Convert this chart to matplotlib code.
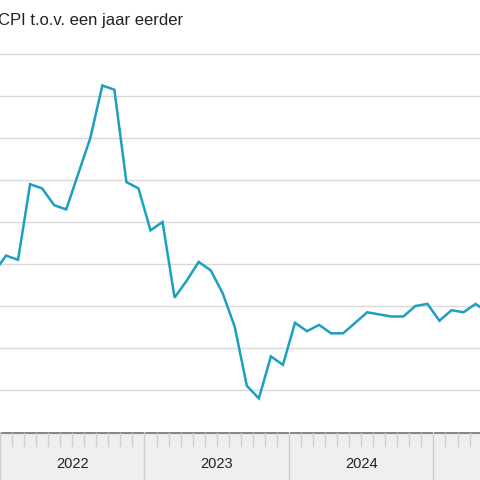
import matplotlib
matplotlib.use("Agg")
import matplotlib.pyplot as plt
import numpy as np

plt.rcParams['font.family'] = ['Liberation Sans', 'DejaVu Sans']

# monthly CPI yoy, Dec 2021 .. May 2025
values = [5.6, 6.4, 6.2, 9.8, 9.6, 8.8, 8.6, 10.3, 12.0, 14.5, 14.3, 9.9, 9.6,
          7.6, 8.0, 4.4, 5.2, 6.1, 5.7, 4.6, 3.0, 0.2, -0.4, 1.6, 1.2,
          3.2, 2.8, 3.1, 2.7, 2.7, 3.2, 3.7, 3.6, 3.5, 3.5, 4.0, 4.1,
          3.3, 3.8, 3.7, 4.1, 3.7]
years = ["2022", "2023", "2024"]
title = "CPI t.o.v. een jaar eerder"

months_per_px = 1 / 12.04
xmax = 480 * months_per_px
x = np.arange(len(values)) - 1 + 0.5

fig = plt.figure(figsize=(4.8, 4.8), dpi=100)
ax = fig.add_axes([0, 48 / 480, 1, (432 - 45) / 480])
ax.plot(x, values, color='#1c9fc1', lw=1.8, solid_joinstyle='miter')
ax.set_xlim(0, xmax)
y_top = (432 - 45) / 21 - 2
ax.set_ylim(-2, y_top)
for t in np.arange(0, 17, 2):
    ax.axhline(t, color='#d9d9d9', lw=1, zorder=0)
for s in ax.spines.values():
    s.set_visible(False)
ax.set_xticks([]); ax.set_yticks([])

bx = fig.add_axes([0, 0, 1, 48 / 480])
bx.set_facecolor('#efefef')
bx.set_xlim(0, xmax)
bx.set_ylim(0, 48)
for s in bx.spines.values():
    s.set_visible(False)
bx.set_xticks([]); bx.set_yticks([])
bx.axhline(47.5, color='#888888', lw=1.5)
for m in range(0, 41):
    if m % 12 == 0:
        bx.plot([m, m], [0, 48], color='#cccccc', lw=1)
    else:
        bx.plot([m, m], [34, 47], color='#cfcfcf', lw=1)
for i, yr in enumerate(years):
    bx.text(12 * i + 6, 16, yr, ha='center', va='center', fontsize=10.5, color='#222222')

fig.text(-2, 460, title, transform=None, fontsize=12, va='center', ha='left', color='#222222')
fig.savefig("out.png", dpi=100)
